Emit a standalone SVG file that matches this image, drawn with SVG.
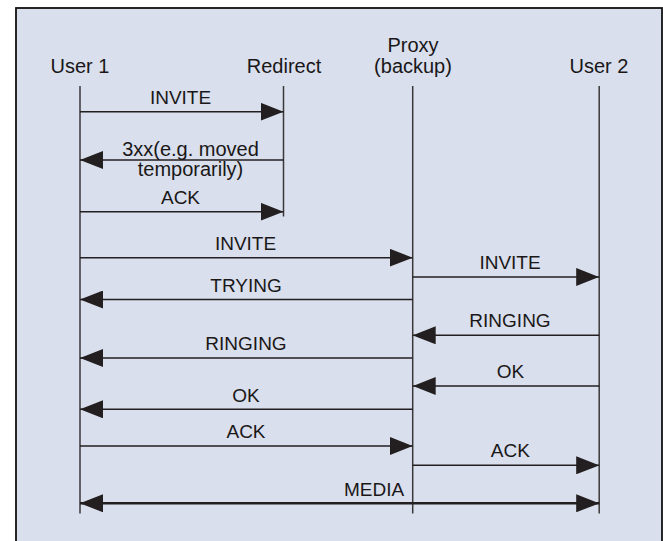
<svg xmlns="http://www.w3.org/2000/svg" width="663" height="541" viewBox="0 0 663 541">
<style>
text{font-family:"Liberation Sans",Arial,sans-serif;fill:#1a1718;text-anchor:middle}
.hd{font-size:20px}
.lb{font-size:19px}
.ll{stroke:#3a3738;stroke-width:1.5;fill:none}
.msg{stroke:#231f20;stroke-width:1.5;fill:none;marker-end:url(#ah)}
.media{stroke:#231f20;stroke-width:2.6;fill:none;marker-end:url(#ah);marker-start:url(#ah)}
</style>
<defs>
<marker id="ah" markerUnits="userSpaceOnUse" markerWidth="23" markerHeight="18" refX="23" refY="9" orient="auto-start-reverse" viewBox="0 0 23 18">
<path d="M0,0 L23,9 L0,18 z" fill="#231f20"/>
</marker>
</defs>
<rect x="0" y="0" width="663" height="541" fill="#ffffff"/>
<rect x="16" y="8" width="646" height="560" fill="#d9dfec" stroke="#111" stroke-width="1.8"/>

<g id="user1">
<text class="hd" x="80" y="72.5">User 1</text>
<line class="ll" x1="80" y1="86" x2="80" y2="513.5"/>
</g>
<g id="redirect">
<text class="hd" x="284" y="72.5">Redirect</text>
<line class="ll" x1="283.5" y1="86" x2="283.5" y2="216.5"/>
</g>
<g id="proxy">
<text class="hd" x="413" y="51.5">Proxy</text>
<text class="hd" x="413" y="72.5">(backup)</text>
<line class="ll" x1="412.7" y1="86" x2="412.7" y2="513.5"/>
</g>
<g id="user2">
<text class="hd" x="599" y="72.5">User 2</text>
<line class="ll" x1="599.2" y1="86" x2="599.2" y2="513.5"/>
</g>

<g id="connectors">
<line class="msg" x1="80" y1="111.7" x2="283.5" y2="111.7"/>
<line class="msg" x1="283.5" y1="160" x2="80" y2="160"/>
<line class="msg" x1="80" y1="211.7" x2="283.5" y2="211.7"/>
<line class="msg" x1="80" y1="257.7" x2="412.7" y2="257.7"/>
<line class="msg" x1="412.7" y1="277" x2="599.2" y2="277"/>
<line class="msg" x1="412.7" y1="299.5" x2="80" y2="299.5"/>
<line class="msg" x1="599.2" y1="335.3" x2="412.7" y2="335.3"/>
<line class="msg" x1="412.7" y1="358" x2="80" y2="358"/>
<line class="msg" x1="599.2" y1="386" x2="412.7" y2="386"/>
<line class="msg" x1="412.7" y1="409.3" x2="80" y2="409.3"/>
<line class="msg" x1="80" y1="446" x2="412.7" y2="446"/>
<line class="msg" x1="412.7" y1="465.3" x2="599.2" y2="465.3"/>
<line class="media" x1="80" y1="503.3" x2="599.2" y2="503.3"/>
</g>

<g id="labels">
<text class="lb" x="180.5" y="104">INVITE</text>
<text class="lb" x="190.5" y="155.5" style="font-size:20px">3xx(e.g. moved</text>
<text class="lb" x="190.5" y="175.5" style="font-size:20px">temporarily)</text>
<text class="lb" x="180.5" y="203.5">ACK</text>
<text class="lb" x="245.5" y="250">INVITE</text>
<text class="lb" x="510" y="269.3">INVITE</text>
<text class="lb" x="246" y="291.7">TRYING</text>
<text class="lb" x="510" y="326.7">RINGING</text>
<text class="lb" x="246" y="350">RINGING</text>
<text class="lb" x="510.5" y="378.3">OK</text>
<text class="lb" x="246" y="402">OK</text>
<text class="lb" x="246" y="437.5">ACK</text>
<text class="lb" x="510.3" y="456.7">ACK</text>
<text class="lb" x="374" y="496">MEDIA</text>
</g>
</svg>
